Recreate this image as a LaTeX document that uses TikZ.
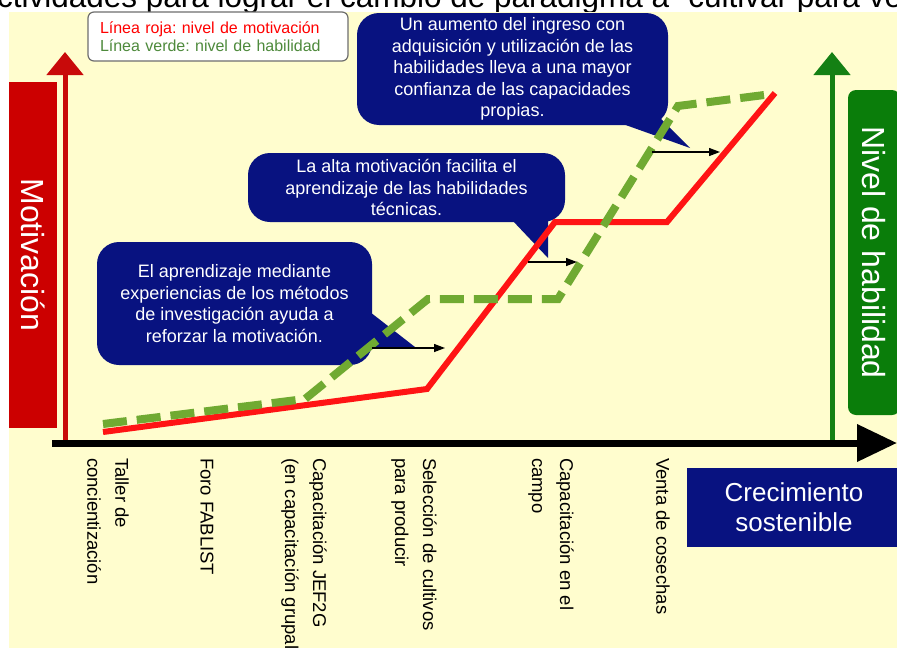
\documentclass[tikz,border=0pt]{standalone}
\usepackage{fontspec}
\setmainfont{Liberation Sans}
\usetikzlibrary{arrows.meta}
\frenchspacing
\definecolor{fondo}{RGB}{255,253,206}
\definecolor{azul}{RGB}{8,18,128}
\definecolor{rojocaja}{RGB}{204,0,0}
\definecolor{rojoeje}{RGB}{200,10,10}
\definecolor{rojolinea}{RGB}{255,20,20}
\definecolor{verdecaja}{RGB}{10,125,10}
\definecolor{verdeeje}{RGB}{20,128,20}
\definecolor{verdelinea}{RGB}{112,170,50}
\definecolor{verdeley}{RGB}{78,138,60}
\definecolor{gris}{RGB}{110,110,110}
\begin{document}
\begin{tikzpicture}[x=1pt,y=-1pt,inner sep=0pt,outer sep=0pt,
globo/.style={fill=azul,rounded corners=22pt,align=center,text=white,font=\fontsize{18}{21.5}\selectfont},
eje/.style={line width=5pt,-{Triangle[width=36pt,length=23pt]}},
hito/.style={anchor=west,rotate=-90,align=left,font=\fontsize{18.5}{28}\selectfont},
flecha/.style={line width=1.3pt,-{Triangle[width=8pt,length=11pt]}}]

\useasboundingbox (0,0) rectangle (897,648);
\fill[white] (0,0) rectangle (897,648);
\draw (-24,7) node[anchor=base west,font=\fontsize{31.5}{36}\selectfont] (titulo) {Actividades para lograr el cambio de paradigma a “cultivar para vender”};
\fill[fondo] (9,12) rectangle (897,648);

\draw (218,36.5) node[draw=gris,fill=white,rounded corners=6pt,line width=1.2pt,text width=236pt,inner xsep=12pt,minimum height=49pt,align=left,font=\fontsize{16}{18}\selectfont] (leyenda) {\textcolor{red}{Línea roja: nivel de motivación}\\\textcolor{verdeley}{Línea verde: nivel de habilidad}};

\draw (33,255) node[fill=rojocaja,text=white,rotate=-90,minimum width=346pt,minimum height=48pt,font=\fontsize{32}{36}\selectfont] (mot) {Motivación};
\draw (874,252.5) node[fill=verdecaja,text=white,rotate=-90,rounded corners=8pt,minimum width=325pt,minimum height=52pt,font=\fontsize{32}{36}\selectfont] (hab) {Nivel de habilidad};

\draw[eje,rojoeje] (65,446) -- (65,52);
\draw[eje,verdeeje] (832,446) -- (832,52);
\draw[line width=7pt,-{Triangle[width=36pt,length=40pt]}] (52,443) -- (897,443);

\draw (512.5,69) node[globo,minimum width=311pt,minimum height=112pt] (c1) {Un aumento del ingreso con\\adquisición y utilización de las\\habilidades lleva a una mayor\\confianza de las capacidades\\propias.};
\fill[azul] (620,123) -- (690,148) -- (657,115) -- cycle;
\draw (406.5,187.5) node[globo,minimum width=317pt,minimum height=69pt] (c2) {La alta motivación facilita el\\aprendizaje de las habilidades\\técnicas.};
\fill[azul] (512,220) -- (548,258) -- (548,214) -- cycle;
\draw (234.5,303.5) node[globo,minimum width=275pt,minimum height=123pt] (c3) {El aprendizaje mediante\\experiencias de los métodos\\de investigación ayuda a\\reforzar la motivación.};
\fill[azul] (370,312) -- (415,347) -- (368,348) -- cycle;

\draw[rojolinea,line width=6pt] (103,432) -- (427,389) -- (555,222) -- (667,222) -- (775,93);
\draw[verdelinea,line width=8pt,dash pattern=on 24pt off 10pt] (103,424) -- (305,399) -- (428,299) -- (558,299) -- (678,106) -- (772,94);

\coordinate (a1) at (652,152);
\coordinate (b1) at (720,152);
\coordinate (a2) at (528,262);
\coordinate (b2) at (577,262);
\coordinate (a3) at (372,348);
\coordinate (b3) at (445,348);
\draw[flecha] (a1) -- (b1);
\draw[flecha] (a2) -- (b2);
\draw[flecha] (a3) -- (b3);

\draw (108,458) node[hito] (t1) {Taller de\\concientización};
\draw (207,458) node[hito] (t2) {Foro FABLIST};
\draw (304,458) node[hito] (t3) {Capacitación JEF2G\\(en capacitación grupal)};
\draw (414,458) node[hito] (t4) {Selección de cultivos\\para producir};
\draw (551,458) node[hito] (t5) {Capacitación en el\\campo};
\draw (663,458) node[hito] (t6) {Venta de cosechas};

\draw (794,507.5) node[fill=azul,text=white,align=center,minimum width=214pt,minimum height=79pt,font=\fontsize{26}{30}\selectfont] (crec) {Crecimiento\\sostenible};
\end{tikzpicture}
\end{document}
